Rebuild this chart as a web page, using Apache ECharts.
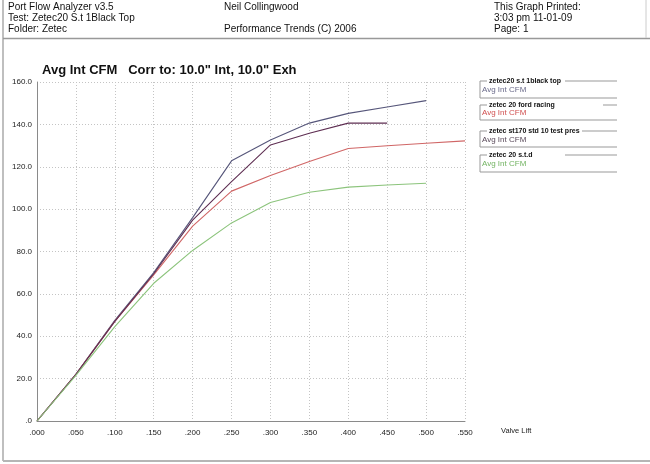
<!DOCTYPE html>
<html>
<head>
<meta charset="utf-8">
<script src="https://cdn.jsdelivr.net/npm/echarts@6/dist/echarts.min.js"></script>
<style>
html,body{margin:0;padding:0;background:#fff;}
#c{width:650px;height:464px;}
</style>
</head>
<body>
<div id="c"></div>
<script>
// ---- data ----
var valveLift = [0, 0.05, 0.10, 0.15, 0.20, 0.25, 0.30, 0.35, 0.40, 0.45, 0.50, 0.55];
var seriesNames = ["zetec20 s.t 1black top", "zetec 20 ford racing", "zetec st170 std 10 test pres", "zetec 20 s.t.d"];
var blackTop   = [0, 22.0, 47.5, 70.0, 96.0, 122.8, 132.6, 140.6, 145.2, 148.2, 151.2];
var fordRacing = [0, 22.0, 47.0, 69.0, 92.0, 108.5, 115.9, 122.5, 128.6, 129.9, 131.1, 132.2];
var st170      = [0, 22.0, 47.0, 69.5, 94.8, 113.0, 130.3, 135.8, 140.6, 140.6];
var stdHead    = [0, 21.5, 44.5, 65.0, 80.5, 93.5, 103.1, 108.0, 110.4, 111.4, 112.2];
var yTicks = [0, 20, 40, 60, 80, 100, 120, 140, 160];
var xTickMax = 0.55;

var colors = ["#56567a", "#d06666", "#5e2e52", "#8cc47c"];
var legendLabelColors = ["#6a6a8a", "#d05050", "#5a4a5a", "#74b464"];

function pairs(vals) {
  return vals.map(function (v, i) { return [valveLift[i], v]; });
}

var chart = echarts.init(document.getElementById('c'), null, {renderer: 'canvas'});

var font = "'Liberation Sans', Arial, sans-serif";
var g = [];
// page frame
g.push({type: 'line', shape: {x1: 3, y1: 0, x2: 3, y2: 461}, style: {stroke: '#aaa', lineWidth: 1.5}, silent: true});
g.push({type: 'line', shape: {x1: 3, y1: 461, x2: 650, y2: 461}, style: {stroke: '#b5b5b5', lineWidth: 2}, silent: true});
g.push({type: 'line', shape: {x1: 3, y1: 38.5, x2: 650, y2: 38.5}, style: {stroke: '#999', lineWidth: 1.5}, silent: true});
g.push({type: 'line', shape: {x1: 646, y1: 0, x2: 646, y2: 38}, style: {stroke: '#ccc', lineWidth: 1}, silent: true});
// header texts
var hdr = [
  ["Port Flow Analyzer v3.5", 8, 7.5],
  ["Test: Zetec20 S.t 1Black Top", 8, 18.5],
  ["Folder: Zetec", 8, 29.5],
  ["Neil Collingwood", 224, 7.5],
  ["Performance Trends (C) 2006", 224, 29.5],
  ["This Graph Printed:", 494, 7.5],
  ["3:03 pm 11-01-09", 494, 18.5],
  ["Page: 1", 494, 29.5]
];
hdr.forEach(function (h) {
  g.push({type: 'text', x: h[1], y: h[2], silent: true,
    style: {text: h[0], font: '10px ' + font, fill: '#111', textAlign: 'left', textVerticalAlign: 'middle'}});
});
// title
g.push({type: 'text', x: 42, y: 70, silent: true,
  style: {text: 'Avg Int CFM   Corr to: 10.0" Int, 10.0" Exh', font: 'bold 13px ' + font, fill: '#111', textAlign: 'left', textVerticalAlign: 'middle'}});
// x axis name
g.push({type: 'text', x: 501, y: 431, silent: true,
  style: {text: 'Valve Lift', font: '7.5px ' + font, fill: '#222', textAlign: 'left', textVerticalAlign: 'middle'}});
// legend
var legNameY = [81, 105, 131, 155];
var legCfmY = [90, 113, 140, 164];
var legBotY = [98, 120, 147, 172];
var legLineStart = [565, 603, 582, 565];
for (var i = 0; i < 4; i++) {
  g.push({type: 'polyline', silent: true, shape: {points: [[487, legNameY[i]], [480, legNameY[i]], [480, legBotY[i]], [617, legBotY[i]]]},
    style: {stroke: '#999', lineWidth: 1, fill: null}});
  g.push({type: 'line', silent: true, shape: {x1: legLineStart[i], y1: legNameY[i], x2: 617, y2: legNameY[i]},
    style: {stroke: '#999', lineWidth: 1}});
  g.push({type: 'text', x: 489, y: legNameY[i], silent: true,
    style: {text: seriesNames[i], font: 'bold 7px ' + font, fill: '#111', textAlign: 'left', textVerticalAlign: 'middle'}});
  g.push({type: 'text', x: 482, y: legCfmY[i], silent: true,
    style: {text: 'Avg Int CFM', font: '8px ' + font, fill: legendLabelColors[i], textAlign: 'left', textVerticalAlign: 'middle'}});
}

var allData = [blackTop, fordRacing, st170, stdHead];

chart.setOption({
  animation: false,
  backgroundColor: '#fff',
  grid: {left: 37, right: 185, top: 82, bottom: 43, containLabel: false},
  xAxis: {
    type: 'value', min: 0, max: xTickMax, interval: 0.05,
    axisLine: {show: true, lineStyle: {color: '#8a8a8a', width: 1}},
    axisTick: {show: false},
    axisLabel: {fontSize: 8, fontFamily: font, color: '#222', margin: 8,
      formatter: function (v) { return '.' + v.toFixed(3).split('.')[1]; }},
    splitLine: {show: true, lineStyle: {color: '#c4c4c4', type: [1, 2], width: 1}}
  },
  yAxis: {
    type: 'value', min: yTicks[0], max: yTicks[yTicks.length - 1], interval: 20,
    axisLine: {show: true, lineStyle: {color: '#8a8a8a', width: 1}},
    axisTick: {show: false},
    axisLabel: {fontSize: 8, fontFamily: font, color: '#222', margin: 5,
      formatter: function (v) { return v === 0 ? '.0' : v.toFixed(1); }},
    splitLine: {show: true, lineStyle: {color: '#c4c4c4', type: [1, 2], width: 1}}
  },
  series: allData.map(function (d, i) {
    return {
      name: seriesNames[i], type: 'line', data: pairs(d), showSymbol: false, symbol: 'none',
      lineStyle: {color: colors[i], width: 1.1}, itemStyle: {color: colors[i]}, z: 3 + i
    };
  }),
  graphic: g
});
</script>
</body>
</html>
